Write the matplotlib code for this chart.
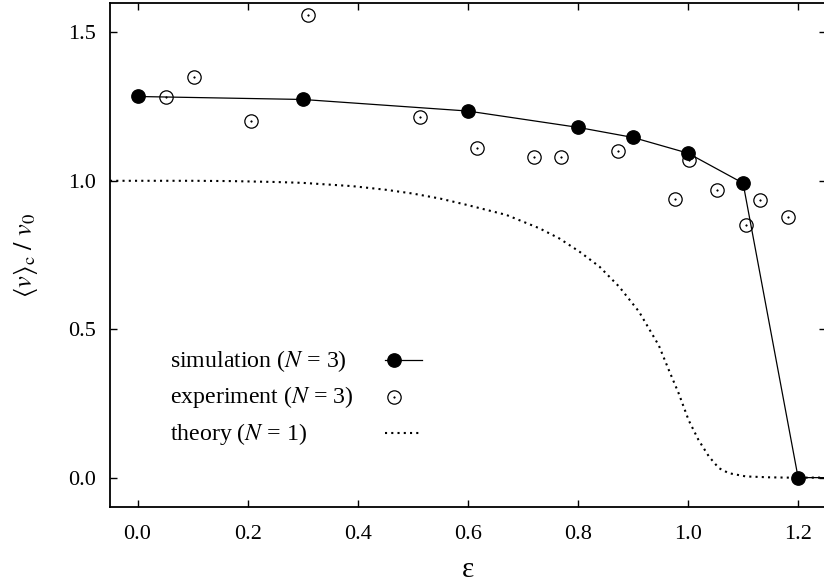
import matplotlib
matplotlib.use("Agg")
import matplotlib.pyplot as plt

plt.rcParams["font.family"] = ["Liberation Serif", "DejaVu Serif"]
plt.rcParams["mathtext.fontset"] = "stix"

# simulation, N = 3
sim_eps = [0.0, 0.3, 0.6, 0.8, 0.9, 1.0, 1.1, 1.2, 1.3]
sim_v = [1.284, 1.274, 1.235, 1.180, 1.146, 1.093, 0.992, 0.0, 0.0]

# experiment, N = 3
exp_eps = [0.052, 0.103, 0.206, 0.309, 0.514, 0.616, 0.720, 0.770, 0.873,
           0.976, 1.001, 1.053, 1.105, 1.130, 1.181]
exp_v = [1.281, 1.348, 1.202, 1.558, 1.214, 1.110, 1.079, 1.079, 1.099,
         0.938, 1.070, 0.970, 0.850, 0.935, 0.878]

# theory, N = 1
th_eps = [-0.05, 0.0, 0.1, 0.17, 0.25, 0.30, 0.39, 0.45, 0.50, 0.55, 0.60,
          0.67, 0.73, 0.766, 0.803, 0.839, 0.875, 0.911, 0.947, 0.965,
          0.983, 1.001, 1.019, 1.038, 1.056, 1.074, 1.105, 1.147, 1.18, 1.25]
th_v = [1.0, 1.0, 1.0, 0.999, 0.996, 0.993, 0.982, 0.970, 0.957, 0.940,
        0.918, 0.885, 0.840, 0.806, 0.761, 0.711, 0.643, 0.559, 0.445,
        0.363, 0.284, 0.194, 0.127, 0.071, 0.032, 0.015, 0.004, 0.001,
        0.0, 0.0]

legend_labels = [r"simulation ($N$ = 3)", r"experiment ($N$ = 3)", r"theory ($N$ = 1)"]

fig = plt.figure(figsize=(8.24, 5.86), dpi=100)
ax = fig.add_axes([0.1335, 0.1343, 0.8685, 0.8611])

ax.plot(th_eps, th_v, color="black", lw=1.5, linestyle=(0, (1, 2)))
ax.plot(sim_eps, sim_v, color="black", lw=0.9, marker="o", ms=9.6,
        mfc="black", mec="black")
ax.plot(exp_eps, exp_v, linestyle="none", marker="o", ms=9.6, mfc="none",
        mec="black", mew=0.9)
ax.plot(exp_eps, exp_v, linestyle="none", marker="o", ms=1.2, mfc="black",
        mec="black", mew=0.3)

ax.set_xlim(-0.05, 1.25)
ax.set_ylim(-0.1, 1.6)
ax.set_xticks([0.0, 0.2, 0.4, 0.6, 0.8, 1.0, 1.2])
ax.set_yticks([0.0, 0.5, 1.0, 1.5])
ax.xaxis.set_major_formatter(matplotlib.ticker.FormatStrFormatter("%.1f"))
ax.yaxis.set_major_formatter(matplotlib.ticker.FormatStrFormatter("%.1f"))
ax.tick_params(direction="in", length=5, width=1.0, labelsize=16,
               top=True, right=True)
ax.tick_params(axis="x", pad=13)
ax.tick_params(axis="y", pad=10)
for s in ax.spines.values():
    s.set_linewidth(1.3)

ax.set_xlabel("ε", fontsize=21, labelpad=9)
ax.set_ylabel(r"$\langle v\rangle_{\rm c}\ /\ v_0$", fontsize=19, labelpad=20)

# hand-placed legend: labels left-aligned, samples in a column on the right
text_x = 0.0838
row_base = [0.2786, 0.2061, 0.1340]
row_mid = [0.2919, 0.2192, 0.1478]
h0, hm, h1 = 0.3842, 0.3968, 0.4359
for lab, yb in zip(legend_labels, row_base):
    ax.text(text_x, yb, lab, transform=ax.transAxes, fontsize=17.2,
            va="baseline", ha="left")
ax.plot([h0, h1], [row_mid[0]] * 2, transform=ax.transAxes, color="black", lw=0.9)
ax.plot([hm], [row_mid[0]], transform=ax.transAxes, marker="o", ms=9.6,
        color="black")
ax.plot([hm], [row_mid[1]], transform=ax.transAxes, marker="o", ms=9.6,
        mfc="none", mec="black", mew=0.9)
ax.plot([hm], [row_mid[1]], transform=ax.transAxes, marker="o", ms=1.2,
        mfc="black", mec="black", mew=0.3)
ax.plot([h0, h1], [row_mid[2]] * 2, transform=ax.transAxes, color="black",
        lw=1.5, linestyle=(0, (1, 2)))

fig.savefig("out.png", dpi=100)
